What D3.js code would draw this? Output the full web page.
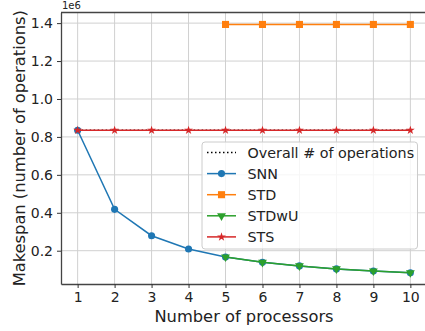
<!DOCTYPE html>
<html>
<head>
<meta charset="utf-8">
<script src="https://cdn.jsdelivr.net/npm/d3@7"></script>
<style>
  body { margin: 0; background: #fff; }
  svg { display: block; font-family: "DejaVu Sans", sans-serif; }
</style>
</head>
<body>
<div id="chart"></div>
<script>
// values (units of 1e6 operations)
const procs = [1, 2, 3, 4, 5, 6, 7, 8, 9, 10];
const overall = [0.835, 0.835, 0.835, 0.835, 0.835, 0.835, 0.835, 0.835, 0.835, 0.835];
const snn = [0.835, 0.418, 0.279, 0.209, 0.167, 0.139, 0.120, 0.104, 0.093, 0.084];
const stdProcs = [5, 6, 7, 8, 9, 10];
const std = [1.393, 1.393, 1.393, 1.393, 1.393, 1.393];
const stdwuProcs = [5, 6, 7, 8, 9, 10];
const stdwu = [0.167, 0.139, 0.120, 0.104, 0.093, 0.084];
const sts = [0.835, 0.835, 0.835, 0.835, 0.835, 0.835, 0.835, 0.835, 0.835, 0.835];
const yTicks = [0.2, 0.4, 0.6, 0.8, 1.0, 1.2, 1.4];

const width = 425, height = 331;
const margin = { left: 61, top: 12.5, right: -2, bottom: 47 };

const svg = d3.select("#chart").append("svg")
    .attr("width", width)
    .attr("height", height);

let x = d3.scaleLinear()
    .domain([0.55, 10.45])
    .range([margin.left, width - margin.right]);

let y = d3.scaleLinear()
    .domain([0.0245, 1.456])
    .range([height - margin.bottom, margin.top]);

// grid
svg.append("g").selectAll("line.gx")
    .data(procs).enter().append("line")
    .attr("x1", d => x(d)).attr("x2", d => x(d))
    .attr("y1", y.range()[0]).attr("y2", y.range()[1])
    .style("stroke", "#d0d0d0").style("stroke-width", 1);
svg.append("g").selectAll("line.gy")
    .data(yTicks).enter().append("line")
    .attr("x1", x.range()[0]).attr("x2", x.range()[1])
    .attr("y1", d => y(d)).attr("y2", d => y(d))
    .style("stroke", "#d0d0d0").style("stroke-width", 1);

// axes
let xAxis = svg.append("g")
    .attr("transform", `translate(0, ${height - margin.bottom})`)
    .call(d3.axisBottom(x).tickValues(procs).tickSize(4).tickPadding(4).tickSizeOuter(0));
let yAxis = svg.append("g")
    .attr("transform", `translate(${margin.left}, 0)`)
    .call(d3.axisLeft(y).tickValues(yTicks).tickFormat(d3.format(".1f")).tickSize(4).tickPadding(4).tickSizeOuter(0));
[xAxis, yAxis].forEach(a => {
    a.attr("font-family", "DejaVu Sans").attr("font-size", 14);
    a.selectAll("text").style("fill", "#222");
    a.selectAll(".tick line").style("stroke", "#333");
    a.select(".domain").style("stroke", "#444").style("stroke-width", 1.3);
});

// top spine
svg.append("line")
    .attr("x1", x.range()[0]).attr("x2", x.range()[1])
    .attr("y1", margin.top).attr("y2", margin.top)
    .style("stroke", "#444").style("stroke-width", 1.3);

// offset text
svg.append("text")
    .attr("x", margin.left + 1).attr("y", 9)
    .style("font-size", "10px").style("fill", "#222")
    .text("1e6");

// labels
svg.append("text")
    .attr("x", (x.range()[0] + 427) / 2).attr("y", 322)
    .attr("text-anchor", "middle")
    .style("font-size", "16.3px").style("fill", "#222")
    .text("Number of processors");
svg.append("text")
    .attr("transform", `translate(25, ${(y.range()[0] + y.range()[1]) / 2}) rotate(-90)`)
    .attr("text-anchor", "middle")
    .style("font-size", "16.3px").style("fill", "#222")
    .text("Makespan (number of operations)");

const series = [
    { name: "Overall # of operations", xs: procs, ys: overall, color: "#000", marker: null, dash: "1.5,2.5" },
    { name: "SNN", xs: procs, ys: snn, color: "#1f77b4", marker: "circle" },
    { name: "STD", xs: stdProcs, ys: std, color: "#ff7f0e", marker: "square" },
    { name: "STDwU", xs: stdwuProcs, ys: stdwu, color: "#2ca02c", marker: "triangle" },
    { name: "STS", xs: procs, ys: sts, color: "#d62728", marker: "star" }
];

const symbolFor = {
    circle: d3.symbol().type(d3.symbolCircle).size(40),
    square: d3.symbol().type(d3.symbolSquare).size(50),
    triangle: d3.symbol().type(d3.symbolTriangle).size(34),
    star: d3.symbol().type(d3.symbolStar).size(24)
};

let line = d3.line().x(d => x(d[0])).y(d => y(d[1]));

series.forEach(s => {
    let pts = s.xs.map((v, i) => [v, s.ys[i]]);
    svg.append("path")
        .attr("d", line(pts))
        .style("fill", "none")
        .style("stroke", s.color)
        .style("stroke-width", 1.5)
        .style("stroke-dasharray", s.dash || null);
    if (s.marker) {
        svg.append("g").selectAll("path")
            .data(pts).enter().append("path")
            .attr("d", symbolFor[s.marker])
            .attr("transform", d => `translate(${x(d[0])}, ${y(d[1])})` + (s.marker === "triangle" ? " rotate(180)" : ""))
            .style("fill", s.color);
    }
});

// legend
let legend = svg.append("g").attr("transform", "translate(202, 142)");
legend.append("rect")
    .attr("width", 215.5).attr("height", 107)
    .attr("rx", 3)
    .style("fill", "white").style("fill-opacity", 0.8)
    .style("stroke", "#ccc").style("stroke-width", 1);
series.forEach((s, i) => {
    let ly = 10.5 + i * 21.1;
    let row = legend.append("g").attr("transform", `translate(0, ${ly})`);
    row.append("line")
        .attr("x1", 5).attr("x2", 34)
        .style("stroke", s.color).style("stroke-width", 1.5)
        .style("stroke-dasharray", s.dash || null);
    if (s.marker) {
        row.append("path")
            .attr("d", symbolFor[s.marker])
            .attr("transform", "translate(19.5, 0)" + (s.marker === "triangle" ? " rotate(180)" : ""))
            .style("fill", s.color);
    }
    row.append("text")
        .attr("x", 45.5).attr("y", 5)
        .style("font-size", "14.3px").style("fill", "#222")
        .text(s.name);
});
</script>
</body>
</html>
